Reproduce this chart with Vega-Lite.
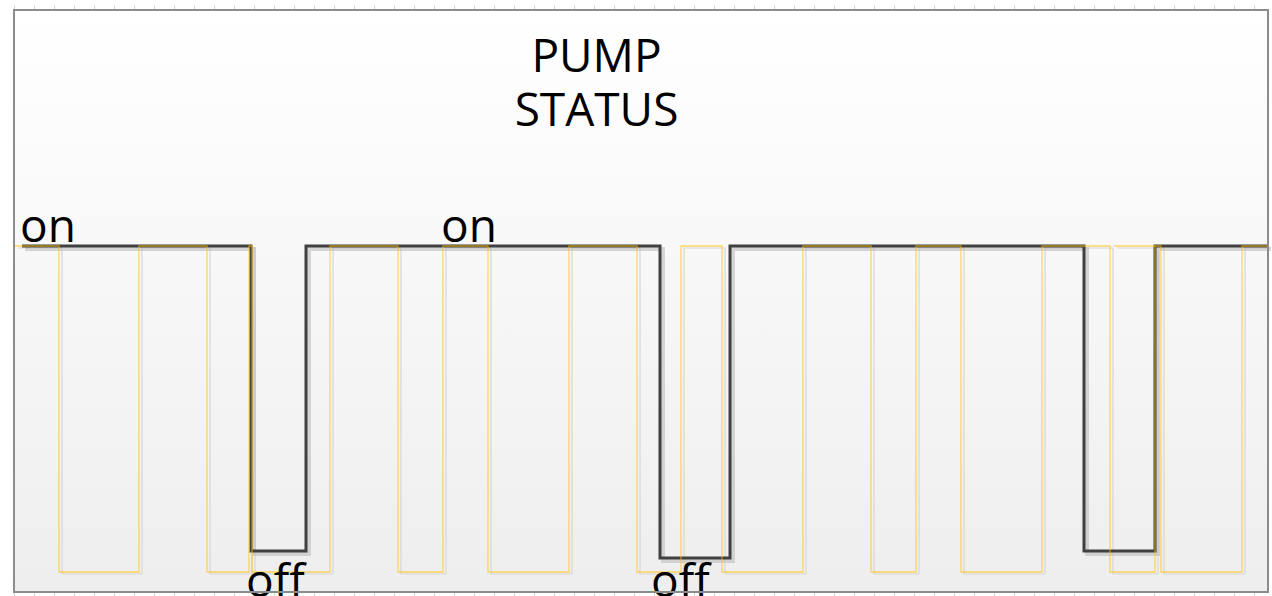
{
  "$schema": "https://vega.github.io/schema/vega-lite/v6.json",
  "width": 1254,
  "height": 582,
  "autosize": {"type": "none"},
  "padding": {"left": 14, "top": 10, "right": 4, "bottom": 4},
  "background": "#ffffff",
  "config": {"view": {"stroke": null}},
  "datasets": {
    "dark": [
      {"t": 8, "v": 1}, {"t": 237, "v": 0.0644}, {"t": 292, "v": 1},
      {"t": 646, "v": 0.0429}, {"t": 716, "v": 1}, {"t": 1070, "v": 0.0644},
      {"t": 1141, "v": 1}, {"t": 1254, "v": 1}
    ],
    "yellow": [
      {"t": 1, "v": 1, "s": "a"}, {"t": 45, "v": 0, "s": "a"}, {"t": 125, "v": 1, "s": "a"},
      {"t": 193, "v": 0, "s": "a"}, {"t": 235, "v": 1, "s": "a"}, {"t": 238, "v": 0, "s": "a"},
      {"t": 316, "v": 1, "s": "a"}, {"t": 384, "v": 0, "s": "a"}, {"t": 429, "v": 1, "s": "a"},
      {"t": 474, "v": 0, "s": "a"}, {"t": 555, "v": 1, "s": "a"}, {"t": 623, "v": 0, "s": "a"},
      {"t": 667, "v": 1, "s": "a"}, {"t": 708, "v": 0, "s": "a"}, {"t": 789, "v": 1, "s": "a"},
      {"t": 857, "v": 0, "s": "a"}, {"t": 902, "v": 1, "s": "a"}, {"t": 947, "v": 0, "s": "a"},
      {"t": 1028, "v": 1, "s": "a"}, {"t": 1096, "v": 0, "s": "a"}, {"t": 1141, "v": 1, "s": "a"},
      {"t": 1147, "v": 0, "s": "a"}, {"t": 1228, "v": 1, "s": "a"}, {"t": 1254, "v": 1, "s": "a"},
      {"t": 1100, "v": 1, "s": "b"}, {"t": 1141, "v": 1, "s": "b"}
    ],
    "labels": [
      {"t": 6, "v": 1, "txt": "on", "k": "on"},
      {"t": 427, "v": 1, "txt": "on", "k": "on"},
      {"t": 232, "v": 0, "txt": "off", "k": "off"},
      {"t": 637, "v": 0, "txt": "off", "k": "off"}
    ],
    "title": [
      {"t": 582.5, "v": 1.5337, "txt": "PUMP STATUS"}
    ],
    "frame": [
      {"t0": 0, "t1": 1254, "v0": -0.0614, "v1": 1.7239}
    ]
  },
  "layer": [
    {
      "data": {"name": "frame"},
      "mark": {
        "type": "rect",
        "fill": {
          "gradient": "linear", "x1": 0, "y1": 0, "x2": 0, "y2": 1,
          "stops": [{"offset": 0, "color": "#ffffff"}, {"offset": 1, "color": "#eeeeee"}]
        }
      },
      "encoding": {
        "x": {"field": "t0", "type": "quantitative", "scale": {"domain": [0, 1254], "nice": false, "zero": false}, "axis": null},
        "x2": {"field": "t1"},
        "y": {"field": "v0", "type": "quantitative", "scale": {"domain": [-0.0614, 1.7239], "nice": false, "zero": false}, "axis": null},
        "y2": {"field": "v1"}
      }
    },
    {
      "data": {"name": "yellow"},
      "mark": {"type": "line", "interpolate": "step-after", "stroke": "#d6d6d6", "strokeWidth": 1.2, "xOffset": 3, "yOffset": 2},
      "encoding": {
        "x": {"field": "t", "type": "quantitative", "axis": {"orient": "top", "labels": false, "domain": false, "grid": false, "title": null, "tickColor": "#d4d4d4", "tickSize": 5, "tickCount": 70}},
        "y": {"field": "v", "type": "quantitative", "axis": null},
        "detail": {"field": "s"}
      }
    },
    {
      "data": {"name": "dark"},
      "mark": {"type": "line", "interpolate": "step-after", "stroke": "#bdbdbd", "strokeWidth": 4, "opacity": 0.6, "xOffset": 3, "yOffset": 3},
      "encoding": {
        "x": {"field": "t", "type": "quantitative", "axis": null},
        "y": {"field": "v", "type": "quantitative", "axis": null}
      }
    },
    {
      "data": {"name": "dark"},
      "mark": {"type": "line", "interpolate": "step-after", "stroke": "#404040", "strokeWidth": 3},
      "encoding": {
        "x": {"field": "t", "type": "quantitative", "axis": null},
        "y": {"field": "v", "type": "quantitative", "axis": null}
      }
    },
    {
      "data": {"name": "yellow"},
      "mark": {"type": "line", "interpolate": "step-after", "stroke": "#ffc000", "strokeWidth": 1.3, "opacity": 0.6},
      "encoding": {
        "x": {"field": "t", "type": "quantitative", "axis": {"orient": "bottom", "labels": false, "domain": false, "grid": false, "title": null, "tickColor": "#d4d4d4", "tickSize": 5, "tickCount": 70}},
        "y": {"field": "v", "type": "quantitative", "axis": {"labels": false, "domain": false, "grid": false, "title": null, "tickColor": "#d4d4d4", "tickSize": 5, "tickCount": 20}},
        "detail": {"field": "s"}
      }
    },
    {
      "data": {"name": "labels"},
      "transform": [{"filter": "datum.k === 'on'"}],
      "mark": {"type": "text", "font": "Open Sans", "fontSize": 46, "align": "left", "baseline": "alphabetic", "dy": -4, "color": "#000000"},
      "encoding": {
        "x": {"field": "t", "type": "quantitative", "axis": null},
        "y": {"field": "v", "type": "quantitative", "axis": null},
        "text": {"field": "txt"}
      }
    },
    {
      "data": {"name": "labels"},
      "transform": [{"filter": "datum.k === 'off'"}],
      "mark": {"type": "text", "font": "Open Sans", "fontSize": 46, "align": "left", "baseline": "alphabetic", "dy": 25, "color": "#000000"},
      "encoding": {
        "x": {"field": "t", "type": "quantitative", "axis": null},
        "y": {"field": "v", "type": "quantitative", "axis": null},
        "text": {"field": "txt"}
      }
    },
    {
      "data": {"name": "title"},
      "mark": {"type": "text", "font": "Open Sans", "fontSize": 46, "align": "center", "baseline": "alphabetic", "lineBreak": " ", "lineHeight": 54, "color": "#000000"},
      "encoding": {
        "x": {"field": "t", "type": "quantitative", "axis": null},
        "y": {"field": "v", "type": "quantitative", "axis": null},
        "text": {"field": "txt"}
      }
    },
    {
      "data": {"name": "frame"},
      "mark": {"type": "rect", "filled": false, "stroke": "#8c8c8c", "strokeWidth": 2},
      "encoding": {
        "x": {"field": "t0", "type": "quantitative", "axis": null},
        "x2": {"field": "t1"},
        "y": {"field": "v0", "type": "quantitative", "axis": null},
        "y2": {"field": "v1"}
      }
    }
  ]
}
